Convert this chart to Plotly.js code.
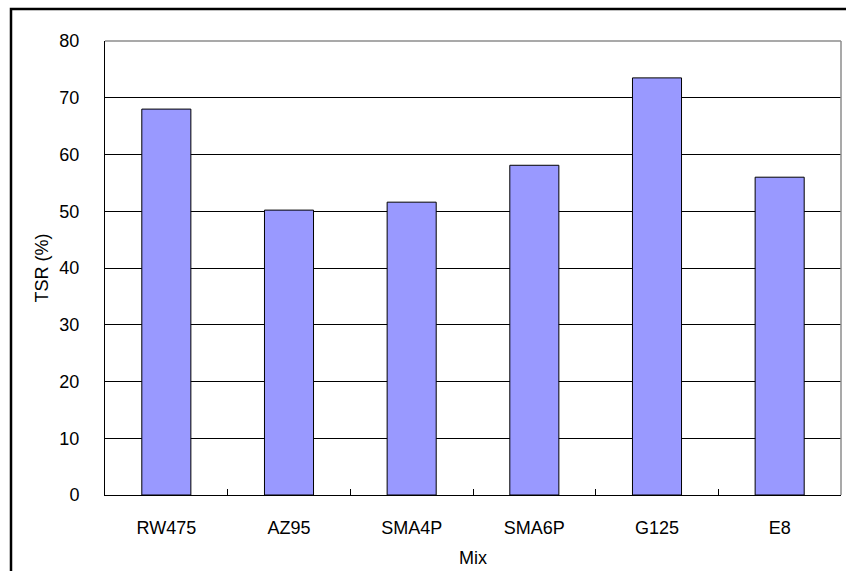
<!DOCTYPE html>
<html>
<head>
<meta charset="utf-8">
<script src="https://cdn.plot.ly/plotly-3.0.1.min.js"></script>
<style>
html,body{margin:0;padding:0;background:#fff;}
#chart{width:846px;height:571px;}
</style>
</head>
<body>
<div id="chart"></div>
<script>
var categories = ["RW475", "AZ95", "SMA4P", "SMA6P", "G125", "E8"];
var tsrValues = [68.0, 50.2, 51.6, 58.1, 73.5, 56.0];
var yTickValues = [0, 10, 20, 30, 40, 50, 60, 70, 80];

var W = 846, H = 571;
var mL = 105, mR = 5, mT = 41, mB = 76;
var pw = W - mL - mR, ph = H - mT - mB;
function px(x){ return (x - mL) / pw; }
function py(y){ return (H - mB - y) / ph; }

var trace = {
  type: "bar",
  x: categories,
  y: tsrValues,
  marker: {color: "#9999FF", line: {color: "#000000", width: 1}},
  hoverinfo: "x+y"
};

var layout = {
  width: W, height: H,
  margin: {l: mL, r: mR, t: mT, b: mB, pad: 0},
  paper_bgcolor: "#ffffff",
  plot_bgcolor: "#ffffff",
  showlegend: false,
  bargap: 0.6,
  font: {family: "Liberation Sans, Arial, sans-serif", size: 18, color: "#000"},
  xaxis: {
    type: "category",
    showline: true, linecolor: "#000", linewidth: 1,
    showgrid: false,
    ticks: "inside", tickson: "boundaries", ticklen: 6, tickcolor: "#000", tickwidth: 1,
    ticklabelstandoff: 16,
    tickfont: {size: 18},
    title: {text: "Mix", font: {size: 18}, standoff: 14},
    fixedrange: true
  },
  yaxis: {
    range: [0, 80],
    tickvals: yTickValues,
    ticktext: yTickValues.map(String),
    showline: true, linecolor: "#000", linewidth: 1,
    showgrid: true, gridcolor: "#000", gridwidth: 1,
    zeroline: false,
    ticks: "", ticklabelstandoff: 21,
    tickfont: {size: 18},
    title: {text: "TSR (%)", font: {size: 18}, standoff: 6},
    fixedrange: true
  },
  shapes: [
    {type: "line", xref: "paper", yref: "paper", x0: 0, x1: 1, y0: 1, y1: 1,
     line: {color: "#8c8c8c", width: 1.5}, layer: "above"},
    {type: "line", xref: "paper", yref: "paper", x0: 1, x1: 1, y0: 0, y1: 1,
     line: {color: "#8c8c8c", width: 1.5}, layer: "above"},
    {type: "rect", xref: "paper", yref: "paper",
     x0: px(11), x1: px(852), y0: py(9), y1: py(580),
     line: {color: "#000", width: 2.5}, fillcolor: "rgba(0,0,0,0)", layer: "above"}
  ]
};

Plotly.newPlot("chart", [trace], layout, {displayModeBar: false, staticPlot: true});
</script>
</body>
</html>
